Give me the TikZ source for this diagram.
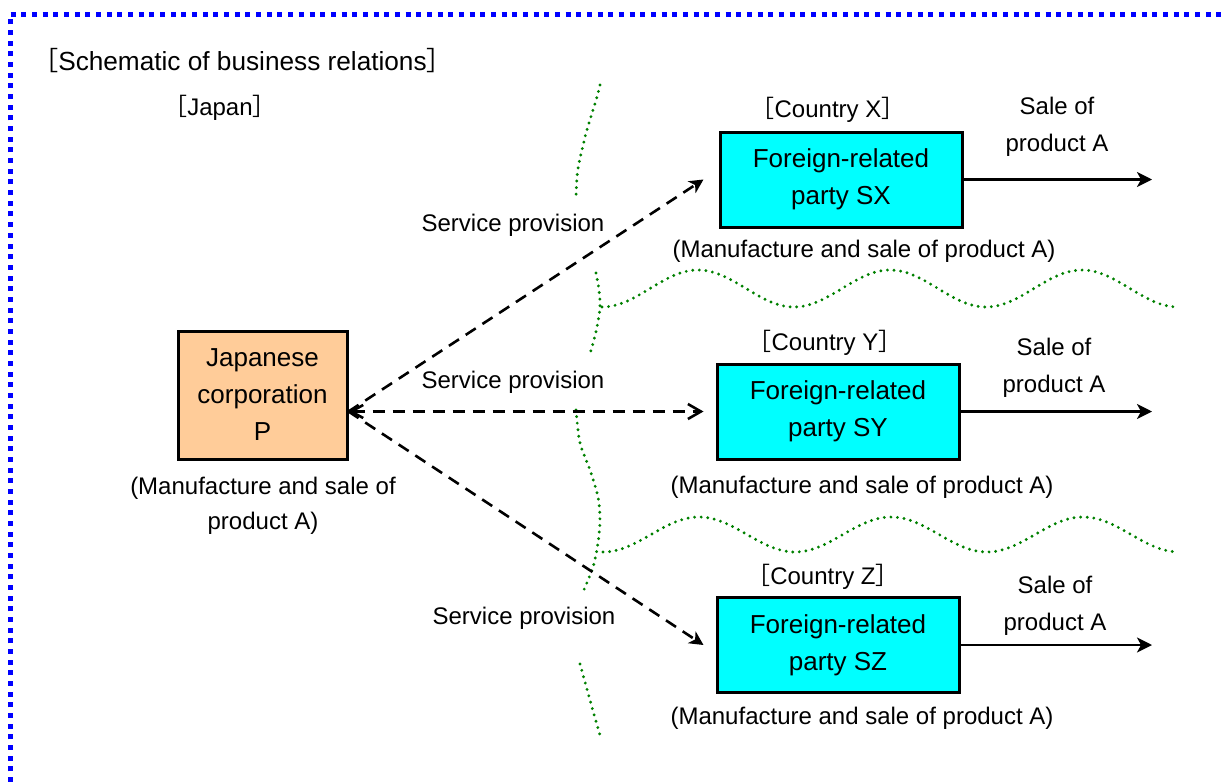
\documentclass[tikz,border=0pt]{standalone}
\usepackage{fontspec}
\setmainfont{Liberation Sans}
\newfontfamily\cjk{Noto Sans CJK JP}
\usetikzlibrary{arrows.meta}
\newcommand\lbk{{\cjk ［}}
\newcommand\rbk{{\cjk ］}}
\definecolor{peach}{RGB}{255,204,153}
\definecolor{aqua}{RGB}{0,255,255}
\definecolor{gdot}{RGB}{0,128,0}
\definecolor{bdot}{RGB}{0,0,255}
\begin{document}
\begin{tikzpicture}[x=1pt,y=-1pt,
  boxtext/.style={font=\fontsize{26}{37}\selectfont, align=center},
  pbox/.style={draw, line width=3pt, fill=peach, minimum width=169pt, minimum height=128pt, inner sep=0pt, boxtext},
  fbox/.style={draw, line width=3pt, fill=aqua, minimum width=242pt, minimum height=95pt, inner sep=0pt, boxtext},
  lbl/.style={font=\fontsize{24}{37}\selectfont, align=center, inner sep=0pt},
  svc/.style={line width=2.6pt, dash pattern=on 12pt off 8pt},
  sale/.style={line width=2.2pt, -{Stealth[length=15pt,width=15pt,inset=4pt]}},
  stl/.style={-{Stealth[length=14pt,width=14pt,inset=4pt]}},
  gline/.style={gdot, line width=3.2pt, dash pattern=on 0pt off 6.6pt, line cap=round},
  border/.style={bdot, line width=5pt, dash pattern=on 5pt off 5.67pt}
]
\useasboundingbox (0,0) rectangle (1227,782);
\draw[border] (10,782) -- (10,14.5) -- (1227,14.5);

% boxes
\node[pbox] (P) at (262.5,395) {Japanese\\corporation\\P};
\node[fbox] (SX) at (841,179.5) {Foreign-related\\party SX};
\node[fbox] (SY) at (838,411.5) {Foreign-related\\party SY};
\node[fbox] (SZ) at (838,645) {Foreign-related\\party SZ};

% labels
\node[lbl, font=\fontsize{26.2}{30}\selectfont] (title) at (242.5,61) {\lbk Schematic of business relations\rbk};
\node[lbl] (japan) at (220,108) {\lbk Japan\rbk};
\node[lbl] (cx) at (828,110) {\lbk Country X\rbk};
\node[lbl] (cy) at (825,343) {\lbk Country Y\rbk};
\node[lbl] (cz) at (823,577) {\lbk Country Z\rbk};
\node[lbl] (mx) at (864,251) {(Manufacture and sale of product A)};
\node[lbl] (my) at (862,487) {(Manufacture and sale of product A)};
\node[lbl] (mz) at (862,718) {(Manufacture and sale of product A)};
\node[lbl, font=\fontsize{24}{35}\selectfont] (mp) at (263,505.5) {(Manufacture and sale of\\product A)};
\node[lbl] (sx) at (1057,127) {Sale of\\product A};
\node[lbl] (sy) at (1054,368) {Sale of\\product A};
\node[lbl] (sz) at (1055,606) {Sale of\\product A};
\node[lbl] (svx) at (513,225) {Service provision};
\node[lbl] (svy) at (513,382) {Service provision};
\node[lbl] (svz) at (524,618) {Service provision};

% green boundaries
\draw[gline] plot[smooth] coordinates {(600,85) (597,97) (593,110) (589,123) (585,137) (582,150) (579,163) (577,177) (576,197)};
\draw[gline] plot[smooth] coordinates {(596,273) (599,290) (600,307) (597,327) (592,347) (589,356)};
\draw[gline] plot[smooth] coordinates {(576,410) (580,443) (590,470) (598,497) (600,520) (598,543) (593,567) (583,592)};
\draw[gline] plot[smooth] coordinates {(580,664) (585,682) (590,700) (595,718) (600,735)};
\draw[gline] plot[domain=602:1178, samples=120, smooth] (\x, {288.5+18.5*cos(1.875*(\x-602))});
\draw[gline] plot[domain=603:1178, samples=120, smooth] (\x, {534.5+17.5*cos(1.875*(\x-603))});

% service arrows
\coordinate (pa) at (P.east |- SY.west);
\draw[svc, {Straight Barb[length=12pt,width=13pt]}-{Straight Barb[length=13pt,width=15pt]}] (pa) -- ([xshift=-12pt]SY.west);
\draw[svc, stl] (pa) -- ([xshift=-15pt]SX.west);
\draw[svc, stl] (pa) -- ([xshift=-12pt]SZ.west);

% sale arrows
\coordinate (ex) at (1152,179.5);
\coordinate (ey) at (1152,411.5);
\coordinate (ez) at (1152,645);
\draw[sale] (SX.east) -- (ex);
\draw[sale] (SY.east) -- (ey);
\draw[sale] (SZ.east) -- (ez);
\end{tikzpicture}
\end{document}
